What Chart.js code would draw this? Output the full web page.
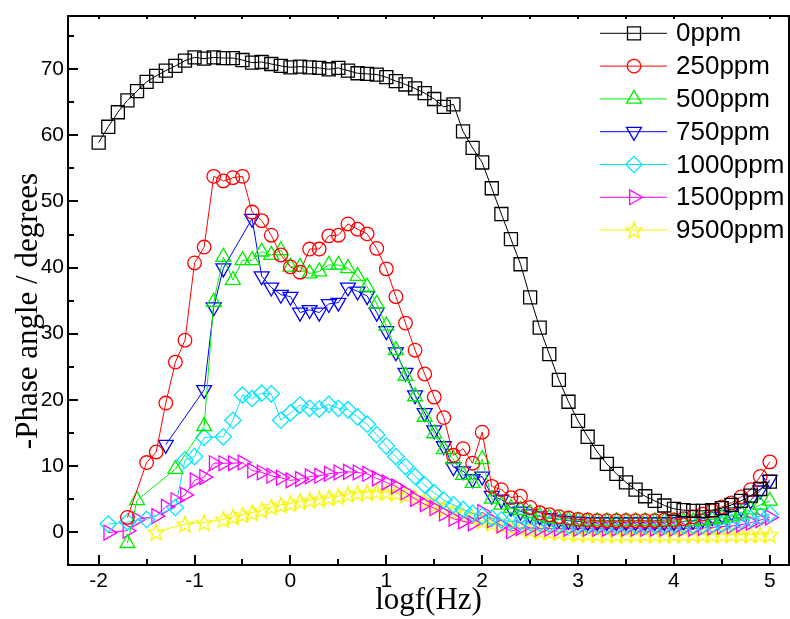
<!DOCTYPE html>
<html>
<head>
<meta charset="utf-8">
<script src="https://cdn.jsdelivr.net/npm/chart.js@4.4.1/dist/chart.umd.min.js"></script>
<style>
  html, body { margin: 0; padding: 0; background: #fff; }
</style>
</head>
<body>
<canvas id="bode" width="790" height="619"></canvas>
<script>
/* Bode phase plots, -phase angle vs log f, for several inhibitor concentrations */

const logf = [
  -2.0,-1.9,-1.8,-1.7,-1.6,-1.5,-1.4,-1.3,-1.2,-1.1,
  -1.0,-0.9,-0.8,-0.7,-0.6,-0.5,-0.4,-0.3,-0.2,-0.1,
   0.0, 0.1, 0.2, 0.3, 0.4, 0.5, 0.6, 0.7, 0.8, 0.9,
   1.0, 1.1, 1.2, 1.3, 1.4, 1.5, 1.6, 1.7, 1.8, 1.9,
   2.0, 2.1, 2.2, 2.3, 2.4, 2.5, 2.6, 2.7, 2.8, 2.9,
   3.0, 3.1, 3.2, 3.3, 3.4, 3.5, 3.6, 3.7, 3.8, 3.9,
   4.0, 4.1, 4.2, 4.3, 4.4, 4.5, 4.6, 4.7, 4.8, 4.9,
   5.0
];

const phase0 = [
  58.9,61.3,63.5,65.3,66.7,68.1,69.0,69.8,70.5,71.3,
  71.8,71.6,71.8,71.7,71.7,71.4,71.0,71.1,70.8,70.5,
  70.3,70.4,70.3,70.2,70.0,70.2,69.8,69.4,69.3,69.2,
  68.8,68.2,67.7,67.1,66.4,65.5,64.3,64.7,60.6,58.1,
  55.9,52.0,48.1,44.3,40.5,35.5,30.9,26.9,23.0,19.7,
  16.8,14.4,12.1,10.3,8.8,7.5,6.4,5.4,4.7,4.0,
  3.5,3.3,3.2,3.2,3.3,3.6,4.1,4.7,5.5,6.5,
  7.6
];

const phase250 = [
  null,null,null,2.2,null,10.5,12.1,19.5,25.7,29.0,
  40.7,43.1,53.8,53.1,53.6,53.8,48.4,47.1,44.9,41.9,
  40.1,39.3,42.8,42.8,44.8,44.9,46.6,45.8,45.1,42.9,
  39.8,35.6,31.6,27.5,23.9,20.4,17.3,11.6,12.6,10.4,
  15.1,6.9,6.4,5.2,5.4,3.7,2.9,2.6,2.3,2.1,
  1.9,1.8,1.7,1.7,1.7,1.7,1.7,1.7,1.7,1.8,
  1.8,2.0,2.3,2.7,3.2,3.8,4.4,5.3,6.4,8.4,
  10.6
];

const phase500 = [
  null,null,null,-1.7,4.8,null,null,null,9.5,null,
  null,16.0,34.8,41.6,38.1,41.1,41.1,42.4,41.9,42.6,
  40.1,40.1,39.1,39.4,40.4,40.4,39.9,38.7,37.1,34.5,
  31.2,27.5,23.6,20.5,17.4,14.9,12.5,11.0,8.6,7.4,
  11.0,5.0,4.1,3.6,3.3,2.8,2.4,2.1,1.9,1.8,
  1.7,1.6,1.6,1.6,1.6,1.6,1.6,1.6,1.6,1.6,
  1.6,1.6,1.6,1.7,1.9,2.1,2.4,2.8,3.4,4.1,
  4.7
];

const phase750 = [
  null,null,null,null,null,null,null,13.2,null,null,
  null,21.5,34.0,39.9,null,null,47.4,38.7,37.0,35.9,
  35.6,33.2,33.6,33.2,34.5,34.7,37.0,36.4,35.7,33.2,
  30.4,27.2,24.1,20.7,18.0,15.4,13.0,9.8,9.2,8.0,
  8.4,5.5,4.9,3.7,3.1,2.7,2.4,2.1,1.9,1.7,
  1.6,1.5,1.5,1.5,1.5,1.5,1.5,1.5,1.5,1.5,
  1.5,1.6,1.7,2.0,2.3,2.6,3.0,3.6,4.8,6.3,
  7.9
];

const phase1000 = [
  null,1.2,null,1.5,null,1.9,null,null,3.7,10.9,
  11.4,14.3,null,14.4,16.9,20.7,20.2,21.0,20.9,16.9,
  18.0,19.2,18.7,18.6,19.3,18.7,18.5,17.4,16.3,14.7,
  13.0,11.4,9.9,8.4,7.1,5.9,4.8,4.1,3.4,2.8,
  2.4,2.1,1.8,1.6,1.5,1.4,1.3,1.2,1.1,1.0,
  1.0,1.0,1.0,1.0,1.0,1.0,1.0,1.0,1.0,1.0,
  1.0,1.0,1.0,1.0,1.1,1.2,1.4,1.7,2.0,2.4,
  2.7
];

const phase1500 = [
  null,-0.1,null,0.2,1.9,null,2.4,3.8,4.8,5.6,
  7.8,8.3,10.4,10.4,10.4,10.5,9.3,9.0,8.5,8.2,
  7.8,8.0,8.4,8.5,8.8,9.0,9.1,9.0,8.8,8.1,
  7.5,6.9,6.0,5.0,4.2,3.6,2.8,2.0,1.6,1.3,
  3.0,1.8,1.0,0.1,0.6,0.6,0.5,0.5,0.5,0.5,
  0.5,0.5,0.5,0.5,0.5,0.5,0.5,0.5,0.5,0.5,
  0.5,0.5,0.5,0.6,0.7,0.8,0.9,1.1,1.4,1.8,
  2.2
];

const phase9500 = [
  null,null,null,null,null,null,0.0,null,null,1.2,
  null,1.4,null,1.9,2.3,2.6,2.9,3.3,3.8,4.1,
  4.3,4.6,4.8,5.0,5.2,5.4,5.7,5.9,6.0,6.1,
  6.0,5.9,5.6,5.2,4.7,4.1,3.5,3.0,2.5,2.1,
  1.7,1.3,1.0,0.7,0.5,0.3,0.1,0.0,-0.1,-0.2,
  -0.3,-0.3,-0.4,-0.4,-0.4,-0.4,-0.4,-0.4,-0.4,-0.4,
  -0.4,-0.4,-0.4,-0.4,-0.4,-0.4,-0.4,-0.4,-0.4,-0.4,
  -0.4
];

const xTicks = [-2, -1, 0, 1, 2, 3, 4, 5];
const yTicks = [0, 10, 20, 30, 40, 50, 60, 70];

const SANS = '"Liberation Sans", Arial, sans-serif';
const SERIF = '"Liberation Serif", "Times New Roman", serif';

// hollow five-point star, Chart.js has no such marker
function starMarker(color) {
  const c = document.createElement('canvas'); c.width = c.height = 20;
  const g = c.getContext('2d');
  g.strokeStyle = color; g.lineWidth = 1.3; g.beginPath();
  for (let k = 0; k < 10; k++) {
    const r = k % 2 ? 3.6 : 8.5, a = -Math.PI / 2 + k * Math.PI / 5;
    g.lineTo(10 + r * Math.cos(a), 10.8 + r * Math.sin(a));
  }
  g.closePath(); g.stroke();
  return c;
}

function series(label, values, color, style, radius, rotation) {
  return {
    label, data: logf.map((x, i) => ({ x, y: values[i] })),
    borderColor: color, borderWidth: 1, spanGaps: true, fill: false, tension: 0,
    pointStyle: style, pointRadius: radius, pointRotation: rotation || 0,
    pointBorderColor: color, pointBackgroundColor: 'rgba(0,0,0,0)', pointBorderWidth: 1.3,
    pointHoverRadius: radius
  };
}

/** frame, inward ticks, y title and the Origin-style legend */
const framePlugin = {
  id: 'frame',
  afterDraw(chart) {
    const { ctx, chartArea: a, scales: { x, y } } = chart;
    ctx.save();
    ctx.strokeStyle = '#000'; ctx.lineWidth = 2;
    ctx.strokeRect(a.left, a.top, a.right - a.left, a.bottom - a.top);

    ctx.lineWidth = 2; ctx.beginPath();
    xTicks.forEach(v => {
      const px = Math.round(x.getPixelForValue(v));
      ctx.moveTo(px, a.bottom); ctx.lineTo(px, a.bottom - 10);
      ctx.moveTo(px, a.top); ctx.lineTo(px, a.top + 3);
      const mx = Math.round(x.getPixelForValue(v + 0.5));
      if (v + 0.5 < x.max) {
        ctx.moveTo(mx, a.bottom); ctx.lineTo(mx, a.bottom - 6);
        ctx.moveTo(mx, a.top); ctx.lineTo(mx, a.top + 3);
      }
    });
    yTicks.forEach(v => {
      const py = Math.round(y.getPixelForValue(v));
      ctx.moveTo(a.left, py); ctx.lineTo(a.left + 10, py);
      const my = Math.round(y.getPixelForValue(v + 5));
      ctx.moveTo(a.left, my); ctx.lineTo(a.left + 6, my);
    });
    ctx.stroke();

    // y axis title
    ctx.save();
    ctx.translate(29, 311); ctx.rotate(-Math.PI / 2);
    ctx.font = '31px ' + SERIF; ctx.fillStyle = '#000';
    ctx.textAlign = 'center'; ctx.textBaseline = 'middle';
    ctx.fillText('-Phase angle / degrees', 0, 0);
    ctx.restore();

    // legend
    chart.data.datasets.forEach((d, i) => {
      const ly = 33.3 + 32.8 * i;
      ctx.strokeStyle = d.borderColor; ctx.lineWidth = 1;
      ctx.beginPath(); ctx.moveTo(600, ly); ctx.lineTo(667, ly); ctx.stroke();
      ctx.fillStyle = 'rgba(0,0,0,0)'; ctx.lineWidth = d.pointBorderWidth;
      Chart.helpers.drawPoint(ctx, { pointStyle: d.pointStyle, rotation: d.pointRotation,
        radius: d.pointRadius, borderWidth: d.pointBorderWidth }, 634, ly);
      ctx.fillStyle = '#000'; ctx.font = '26px ' + SANS;
      ctx.textAlign = 'left'; ctx.textBaseline = 'middle';
      ctx.fillText(d.label, 676, ly + 1);
    });
    ctx.restore();
  }
};

new Chart(document.getElementById('bode'), {
  type: 'line',
  data: {
    datasets: [
      series('0ppm', phase0, '#000000', 'rect', 9.2),
      series('250ppm', phase250, '#ff0000', 'circle', 6.8),
      series('500ppm', phase500, '#00ee00', 'triangle', 8.6, 0),
      series('750ppm', phase750, '#0000ff', 'triangle', 8.6, 180),
      series('1000ppm', phase1000, '#00e5ff', 'rectRot', 8.2),
      series('1500ppm', phase1500, '#ff00ff', 'triangle', 8.6, 90),
      series('9500ppm', phase9500, '#f5f500', starMarker('#f5f500'), 9)
    ]
  },
  options: {
    responsive: false, devicePixelRatio: 1, animation: false,
    layout: { autoPadding: false, padding: { top: 16, right: 1, left: 0, bottom: 0 } },
    plugins: { legend: { display: false }, tooltip: { enabled: false } },
    scales: {
      x: {
        type: 'linear', min: -2.32, max: 5.2,
        grid: { display: false, drawTicks: false }, border: { display: false },
        afterBuildTicks: s => { s.ticks = xTicks.map(v => ({ value: v })); },
        afterFit: s => { s.height = 54; s.paddingLeft = 0; s.paddingRight = 0; },
        ticks: { color: '#000', font: { family: SANS, size: 21 }, padding: 4, maxRotation: 0 },
        title: { display: true, text: 'logf(Hz)', color: '#000',
          font: { family: SERIF, size: 31 }, padding: { top: 0, bottom: 0 } }
      },
      y: {
        type: 'linear', min: -5, max: 78.06,
        grid: { display: false, drawTicks: false }, border: { display: false },
        afterBuildTicks: s => { s.ticks = yTicks.map(v => ({ value: v })); },
        afterFit: s => { s.width = 68; s.paddingTop = 0; s.paddingBottom = 0; },
        ticks: { color: '#000', font: { family: SANS, size: 21 }, padding: 4 }
      }
    }
  },
  plugins: [framePlugin]
});
</script>
</body>
</html>
